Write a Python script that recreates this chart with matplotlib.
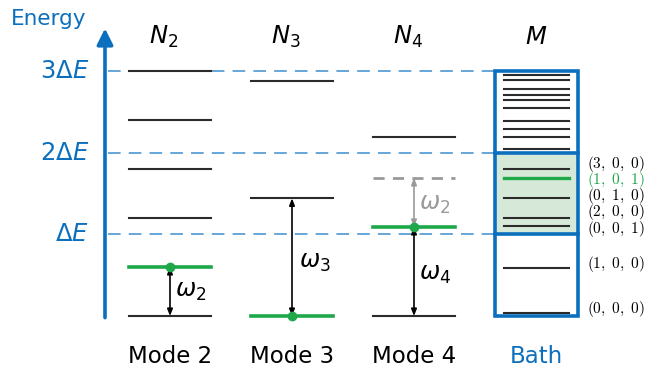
import matplotlib.pyplot as plt
from matplotlib.patches import FancyArrowPatch, Rectangle

# energies in units of Delta E
omega2 = 0.60
omega3 = 1.44
omega4 = 1.09

mode2_levels = [0.0, 0.60, 1.20, 1.80, 2.40, 3.00]
mode3_levels = [0.0, 1.44, 2.88]
mode4_levels = [0.0, 1.09, 2.19]
mode4_virtual = 1.69
occupied = {'Mode 2': 1, 'Mode 3': 0, 'Mode 4': 1}

bath_levels = [0.04, 0.59, 1.10, 1.20, 1.44, 1.69, 1.80,
               2.04, 2.19, 2.29, 2.39, 2.54, 2.64, 2.70, 2.78, 2.89, 2.95]
bath_green = 1.69
bath_labels = ['(0, 0, 0)', '(1, 0, 0)', '(0, 0, 1)', '(2, 0, 0)',
               '(0, 1, 0)', '(1, 0, 1)', '(3, 0, 0)']
bath_label_levels = [0.04, 0.59, 1.10, 1.20, 1.44, 1.69, 1.80]

tick_vals = [1, 2, 3]
tick_labels = [r'$\Delta E$', r'$2\Delta E$', r'$3\Delta E$']
headers = [r'$N_2$', r'$N_3$', r'$N_4$', r'$M$']
footers = ['Mode 2', 'Mode 3', 'Mode 4', 'Bath']

BLUE = '#0b6fbd'
LBLUE = '#5a9fd6'
GREEN = '#1ea84a'
GRAY = '#9a9a9a'
DARK = '#2b2b2b'

plt.rcParams['mathtext.fontset'] = 'dejavusans'

fig = plt.figure(figsize=(6.5, 3.71), dpi=100)
ax = fig.add_axes([0, 0, 1, 1])
ax.set_xlim(0, 650)
unit = 81.7
ax.set_ylim(-(371 - 316) / unit, 316 / unit)
ax.axis('off')

centers = [170, 292, 414, 536]
half = 41

# energy axis
ax.add_patch(FancyArrowPatch((105, -0.02), (105, 3.52), arrowstyle='-|>,head_length=6,head_width=3',
                             color=BLUE, lw=2.6, mutation_scale=1.6, shrinkA=0, shrinkB=0))
ax.text(49, 3.63, 'Energy', color=BLUE, fontsize=15.5, ha='center', va='center')
for v, lab in zip(tick_vals, tick_labels):
    ax.text(89, v, lab, color=BLUE, fontsize=17.5, ha='right', va='center')
    ax.plot([108, 495], [v, v], color=LBLUE, lw=1.3, dashes=(7, 4.5), zorder=1)

# modes
def draw_levels(cx, levels, green_idx):
    for i, e in enumerate(levels):
        if i == green_idx:
            ax.plot([cx - half, cx + half], [e, e], color=GREEN, lw=2.6, zorder=3)
        else:
            ax.plot([cx - half, cx + half], [e, e], color=DARK, lw=1.5, zorder=3)

draw_levels(centers[0], mode2_levels, occupied['Mode 2'])
draw_levels(centers[1], mode3_levels, occupied['Mode 3'])
draw_levels(centers[2], mode4_levels, occupied['Mode 4'])
ax.plot([centers[2] - half, centers[2] + half], [mode4_virtual] * 2, color=GRAY, lw=2, dashes=(4, 3), zorder=3)

def darrow(x, y0, y1, color):
    ax.add_patch(FancyArrowPatch((x, y0), (x, y1), arrowstyle='<|-|>,head_length=4,head_width=1.6',
                                 color=color, lw=1.2, shrinkA=0, shrinkB=0, zorder=4))

darrow(centers[0], 0, omega2, 'black')
ax.plot(centers[0], omega2, 'o', color=GREEN, ms=6, zorder=5)
ax.text(centers[0] + 5, 0.31, r'$\omega_2$', fontsize=17.5, va='center')

darrow(centers[1], 0, omega3, 'black')
ax.plot(centers[1], 0, 'o', color=GREEN, ms=6, zorder=5)
ax.text(centers[1] + 7, 0.66, r'$\omega_3$', fontsize=17.5, va='center')

darrow(centers[2], 0, omega4, 'black')
darrow(centers[2], omega4, mode4_virtual, GRAY)
ax.plot(centers[2], omega4, 'o', color=GREEN, ms=6, zorder=5)
ax.text(centers[2] + 5, 0.52, r'$\omega_4$', fontsize=17.5, va='center')
ax.text(centers[2] + 5, 1.37, r'$\omega_2$', fontsize=17.5, va='center', color=GRAY)

# bath
bx0, bx1 = 495, 578
ax.add_patch(Rectangle((bx0, 1), bx1 - bx0, 1, facecolor='#d6e9d8', edgecolor='none', zorder=0))
for e in bath_levels:
    if e == bath_green:
        ax.plot([504, 569], [e, e], color=GREEN, lw=2.4, zorder=3)
    else:
        ax.plot([504, 569], [e, e], color=DARK, lw=1.5, zorder=3)
ax.add_patch(Rectangle((bx0, 0), bx1 - bx0, 3, facecolor='none', edgecolor=BLUE, lw=2.6, zorder=4))
for v in [1, 2]:
    ax.plot([bx0, bx1], [v, v], color=BLUE, lw=2.6, zorder=4)

# bath labels, the close ones spread out evenly
label_pos = []
for i, e in enumerate(bath_label_levels):
    if i < 2:
        label_pos.append(e + 0.05)
    else:
        label_pos.append(1.07 + (i - 2) * 0.197)
for lab, e, p in zip(bath_labels, bath_label_levels, label_pos):
    col = GREEN if e == bath_green else 'black'
    tex = '$' + lab.replace(', ', r',\ ') + '$'
    ax.text(587, p, tex, fontsize=11, color=col, va='center', ha='left', math_fontfamily='cm')

for cx, h, f in zip(centers, headers, footers):
    ax.text(cx - 6 if h != r'$M$' else cx, 3.42, h, fontsize=17.5, ha='center', va='center')
    ax.text(cx, -0.5, f, fontsize=16.5, ha='center', va='center', color=BLUE if f == 'Bath' else 'black')

fig.savefig('out.png', dpi=100)
